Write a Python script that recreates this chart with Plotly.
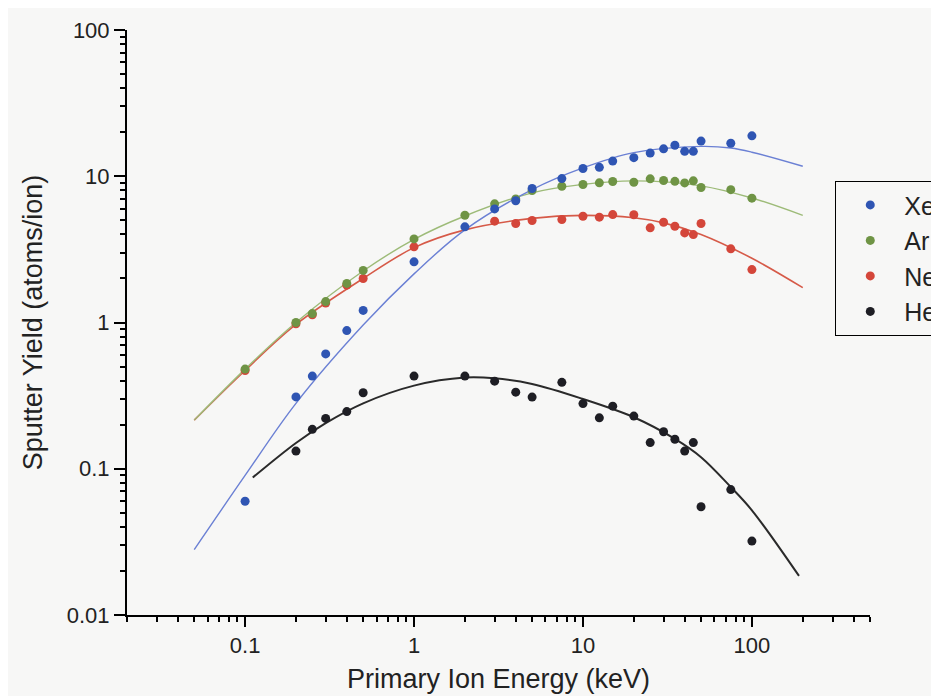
import plotly.graph_objects as go

# ---------------- data ----------------
x_xe = [0.1, 0.2, 0.25, 0.3, 0.4, 0.5, 1, 2, 3, 4, 5, 7.5, 10, 12.5, 15, 20, 25, 30, 35, 40, 45, 50, 75, 100]
y_xe = [0.060, 0.31, 0.43, 0.61, 0.88, 1.21, 2.60, 4.51, 5.98, 6.80, 8.24, 9.64, 11.3, 11.5, 12.7, 13.4, 14.4, 15.4, 16.3, 14.8, 14.8, 17.4, 16.8, 18.9]

x_ar = [0.1, 0.2, 0.25, 0.3, 0.4, 0.5, 1, 2, 3, 4, 5, 7.5, 10, 12.5, 15, 20, 25, 30, 35, 40, 45, 50, 75, 100]
y_ar = [0.48, 1.0, 1.15, 1.39, 1.85, 2.27, 3.73, 5.41, 6.48, 7.0, 7.98, 8.54, 8.78, 9.01, 9.2, 9.1, 9.6, 9.35, 9.23, 9.0, 9.3, 8.37, 8.1, 7.08]

x_ne = [0.1, 0.2, 0.25, 0.3, 0.4, 0.5, 1, 3, 4, 5, 7.5, 10, 12.5, 15, 20, 25, 30, 35, 40, 45, 50, 75, 100]
y_ne = [0.47, 0.98, 1.13, 1.36, 1.80, 2.0, 3.29, 4.93, 4.75, 4.98, 5.06, 5.33, 5.25, 5.47, 5.45, 4.44, 4.85, 4.55, 4.10, 3.99, 4.75, 3.19, 2.30]

x_he = [0.2, 0.25, 0.3, 0.4, 0.5, 1, 2, 3, 4, 5, 7.5, 10, 12.5, 15, 20, 25, 30, 35, 40, 45, 50, 75, 100]
y_he = [0.132, 0.186, 0.221, 0.246, 0.331, 0.43, 0.43, 0.397, 0.334, 0.309, 0.39, 0.279, 0.223, 0.268, 0.229, 0.151, 0.179, 0.159, 0.132, 0.151, 0.055, 0.072, 0.032]

# fitted curves
fit_x_xe = [0.05, 0.1, 0.2, 0.5, 1, 2, 5, 10, 20, 50, 75, 100, 200]
fit_y_xe = [0.028, 0.09, 0.28, 0.96, 2.15, 4.3, 8.1, 11.4, 14.5, 16.0, 15.6, 14.6, 11.7]

fit_x_ar = [0.05, 0.1, 0.2, 0.5, 1, 2, 5, 10, 20, 50, 100, 200]
fit_y_ar = [0.215, 0.48, 1.0, 2.25, 3.7, 5.35, 7.7, 8.8, 9.3, 8.6, 7.1, 5.4]

fit_x_ne = [0.05, 0.1, 0.2, 0.5, 1, 2, 5, 10, 20, 30, 50, 100, 200]
fit_y_ne = [0.215, 0.47, 0.97, 2.0, 3.25, 4.3, 5.15, 5.4, 5.2, 4.8, 4.0, 2.75, 1.73]

fit_x_he = [0.111, 0.2, 0.3, 0.5, 1, 2, 3, 5, 10, 20, 35, 50, 75, 100, 190]
fit_y_he = [0.087, 0.15, 0.205, 0.28, 0.37, 0.42, 0.415, 0.38, 0.30, 0.225, 0.16, 0.12, 0.075, 0.052, 0.0185]

x_tickvals = [0.1, 1, 10, 100]
x_ticktext = ["0.1", "1", "10", "100"]
y_tickvals = [0.01, 0.1, 1, 10, 100]
y_ticktext = ["0.01", "0.1", "1", "10", "100"]

series = [
    # name, x, y, fit x, fit y, marker colour, line colour, line width, legend rank
    ("He", x_he, y_he, fit_x_he, fit_y_he, "#1e1e24", "#2a2a2a", 2.0, 4),
    ("Ne", x_ne, y_ne, fit_x_ne, fit_y_ne, "#d4463a", "#d65a48", 1.6, 3),
    ("Ar", x_ar, y_ar, fit_x_ar, fit_y_ar, "#6f9445", "#9dbb78", 1.4, 2),
    ("Xe", x_xe, y_xe, fit_x_xe, fit_y_xe, "#2f55b3", "#6b80d4", 1.4, 1),
]

BG = "#f7f7f6"
FONT = "Liberation Sans, Arial, Helvetica, sans-serif"

fig = go.Figure()
for name, xs, ys, fx, fy, mc, lc, lw, rank in series:
    fig.add_trace(go.Scatter(
        x=fx, y=fy, mode="lines", showlegend=False, hoverinfo="skip",
        line=dict(color=lc, width=lw, shape="spline", smoothing=1.0),
    ))
for name, xs, ys, fx, fy, mc, lc, lw, rank in series:
    fig.add_trace(go.Scatter(
        x=xs, y=ys, mode="markers", name=name, legendrank=rank,
        marker=dict(color=mc, size=9, line=dict(width=0)),
    ))

axis_common = dict(
    type="log", showline=True, linecolor="black", linewidth=2,
    showgrid=False, zeroline=False, mirror=False,
    ticks="outside", tickcolor="black", tickwidth=2,
    tickmode="array",
    tickfont=dict(family=FONT, size=22, color="#222"),
    minor=dict(ticks="outside", tickmode="linear", dtick="D1", ticklen=5,
               tickwidth=2, tickcolor="black", showgrid=False),
)

fig.update_layout(
    width=939, height=696,
    paper_bgcolor=BG, plot_bgcolor=BG,
    margin=dict(l=119, r=77, t=22, b=89, autoexpand=False),
    font=dict(family=FONT, color="#222"),
    xaxis=dict(
        axis_common, range=[-1.699, 2.699],
        tickvals=x_tickvals, ticktext=x_ticktext, ticklen=10,
        title=dict(text="Primary Ion Energy (keV)", font=dict(family=FONT, size=27, color="#222"), standoff=12),
    ),
    yaxis=dict(
        axis_common, range=[-2, 2],
        tickvals=y_tickvals, ticktext=y_ticktext, ticklen=11,
        title=dict(text="Sputter Yield (atoms/ion)", font=dict(family=FONT, size=27, color="#222"), standoff=16),
    ),
    legend=dict(
        x=0.953, y=0.742, xanchor="left", yanchor="top",
        bordercolor="black", borderwidth=1.2, bgcolor=BG,
        font=dict(family=FONT, size=25, color="#222"),
        itemwidth=58, itemclick=False,
    ),
)

fig.write_html("out.html")
